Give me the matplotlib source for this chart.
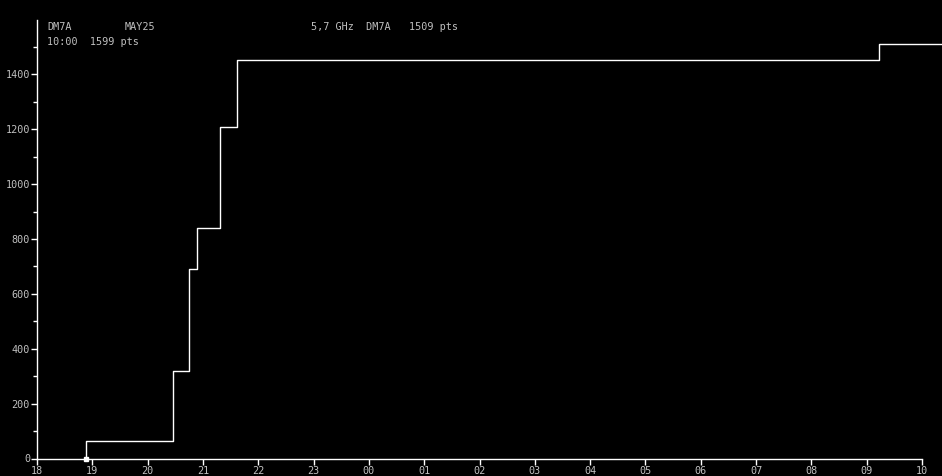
import matplotlib.pyplot as plt

# hours since midnight of the first day (values > 24 are next morning)
step_hours = [18.88, 20.45, 20.74, 20.90, 21.30, 21.62, 33.22, 34.4]
points = [63, 319, 689, 839, 1207, 1451, 1509, 1509]
start_hour = 18.88
start_pts = 0

hour_ticks = list(range(18, 35))
hour_labels = ['%02d' % (h % 24) for h in hour_ticks]
pts_ticks = [0, 200, 400, 600, 800, 1000, 1200, 1400]

txt = '#c0c0c0'
font = 'DejaVu Sans Mono'
fs = 7.3

fig = plt.figure(figsize=(9.42, 4.76), dpi=100, facecolor='black')
ax = fig.add_axes([37 / 942, 17.5 / 476, 885 / 942, 439 / 476], facecolor='black')

xs = [start_hour] + step_hours
ys = [start_pts] + points
ax.step(xs, ys, where='post', color='white', lw=1.0, clip_on=False, zorder=3)
ax.plot([start_hour], [start_pts], 's', color='white', ms=2.5, clip_on=False, zorder=4)

ax.set_xlim(18, 34)
ax.set_ylim(0, 1600)

for s in ['top', 'right']:
    ax.spines[s].set_visible(False)
for s in ['left', 'bottom']:
    ax.spines[s].set_color('white')
    ax.spines[s].set_linewidth(1)

ax.set_xticks(hour_ticks)
ax.set_xticklabels(hour_labels, family=font, fontsize=fs, color=txt)
ax.set_yticks(pts_ticks)
ax.set_yticklabels([str(v) for v in pts_ticks], family=font, fontsize=fs, color=txt)
ax.set_yticks(range(100, 1600, 200), minor=True)
ax.tick_params(axis='x', colors='white', length=4, width=1, pad=1.5, labelcolor=txt)
ax.tick_params(axis='y', which='major', colors='white', length=4, width=1, pad=1, labelcolor=txt)
ax.tick_params(axis='y', which='minor', colors='white', length=3, width=1)

fig.text(47 / 942, 1 - 27 / 476, 'DM7A', family=font, fontsize=fs, color=txt, va='center')
fig.text(125 / 942, 1 - 27 / 476, 'MAY25', family=font, fontsize=fs, color=txt, va='center')
fig.text(311 / 942, 1 - 27 / 476, '5,7 GHz  DM7A   1509 pts', family=font, fontsize=fs,
         color=txt, va='center')
fig.text(47 / 942, 1 - 42 / 476, '10:00  1599 pts', family=font, fontsize=fs, color=txt,
         va='center')

fig.savefig('out.png', dpi=100, facecolor='black')
